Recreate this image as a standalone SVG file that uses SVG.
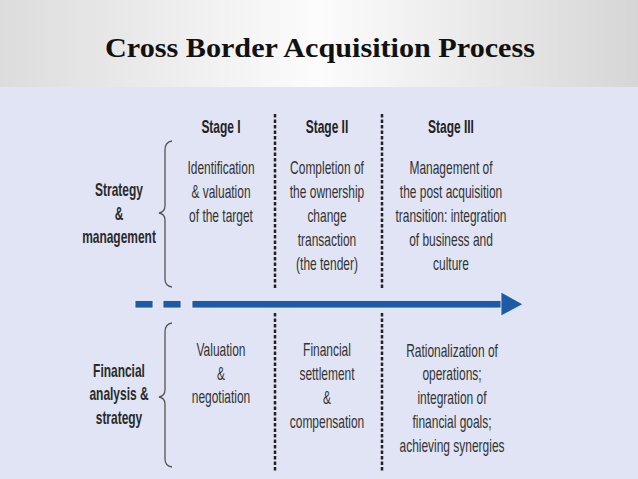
<svg xmlns="http://www.w3.org/2000/svg" width="638" height="479" viewBox="0 0 638 479">
<defs>
<linearGradient id="hdr" x1="0" y1="0" x2="1" y2="0">
<stop offset="0" stop-color="#dcdcdc"/>
<stop offset="0.5" stop-color="#fcfcfc"/>
<stop offset="1" stop-color="#d6d6d6"/>
</linearGradient>
</defs>
<style>
.t{font-family:"Liberation Sans",Arial,sans-serif;font-size:18px;fill:#333;text-anchor:middle}
.b{font-weight:bold;fill:#2a2a2a}
.h{font-weight:bold;fill:#222}
.dash{stroke:#222;stroke-width:2.5;stroke-dasharray:3.5 2;fill:none}
.brace{stroke:#555;stroke-width:1.3;fill:none}
.arr{fill:#1e5ba7;stroke:#eef2fb;stroke-width:0.8}
</style>
<rect x="0" y="0" width="638" height="87" fill="url(#hdr)"/>
<rect x="0" y="87" width="638" height="392" fill="#e0e4f4"/>
<text x="320" y="57" font-family="'Liberation Serif','Times New Roman',serif" font-weight="bold" font-size="28" fill="#111" text-anchor="middle" textLength="430" lengthAdjust="spacingAndGlyphs">Cross Border Acquisition Process</text>

<g id="connectors">
<path class="dash" d="M275,114V290M382,114V290M275,313V472M382,313V472"/>
<path id="brace-upper" class="brace" d="M172,141Q165,142 165,150L165,206Q165,212 159,213Q165,214 165,220L165,279Q165,286 172,287"/>
<path id="brace-lower" class="brace" d="M172,323Q165,324 165,332L165,390Q165,396 159,397Q165,398 165,404L165,459Q165,466 172,467"/>
<g id="timeline">
<rect class="arr" x="135" y="300.5" width="18" height="7.5"/>
<rect class="arr" x="163" y="300.5" width="18" height="7.5"/>
<rect class="arr" x="192" y="300.5" width="311" height="7.5"/>
<polygon class="arr" points="501,292 523,304.2 501,316"/>
</g>
</g>

<g id="label-strategy" transform="translate(119,0) scale(0.665,1)">
<text class="t b" x="0" y="196">Strategy</text>
<text class="t b" x="0" y="220">&amp;</text>
<text class="t b" x="0" y="243">management</text>
</g>
<g id="label-financial" transform="translate(119,0) scale(0.665,1)">
<text class="t b" x="0" y="377">Financial</text>
<text class="t b" x="0" y="400">analysis &amp;</text>
<text class="t b" x="0" y="424">strategy</text>
</g>

<g id="stage1-header" transform="translate(221,0) scale(0.665,1)">
<text class="t h" x="0" y="133">Stage I</text>
</g>
<g id="stage2-header" transform="translate(327,0) scale(0.665,1)">
<text class="t h" x="0" y="133">Stage II</text>
</g>
<g id="stage3-header" transform="translate(451,0) scale(0.665,1)">
<text class="t h" x="0" y="133">Stage III</text>
</g>

<g id="s1-strategy" transform="translate(221,0) scale(0.665,1)">
<text class="t" x="0" y="174">Identification</text>
<text class="t" x="0" y="198">&amp; valuation</text>
<text class="t" x="0" y="222">of the target</text>
</g>
<g id="s2-strategy" transform="translate(327,0) scale(0.665,1)">
<text class="t" x="0" y="174">Completion of</text>
<text class="t" x="0" y="198">the ownership</text>
<text class="t" x="0" y="222">change</text>
<text class="t" x="0" y="246">transaction</text>
<text class="t" x="0" y="270">(the tender)</text>
</g>
<g id="s3-strategy" transform="translate(451,0) scale(0.665,1)">
<text class="t" x="0" y="174">Management of</text>
<text class="t" x="0" y="198">the post acquisition</text>
<text class="t" x="0" y="222">transition: integration</text>
<text class="t" x="0" y="246">of business and</text>
<text class="t" x="0" y="270">culture</text>
</g>

<g id="s1-financial" transform="translate(221,0) scale(0.665,1)">
<text class="t" x="0" y="356">Valuation</text>
<text class="t" x="0" y="380">&amp;</text>
<text class="t" x="0" y="403">negotiation</text>
</g>
<g id="s2-financial" transform="translate(327,0) scale(0.665,1)">
<text class="t" x="0" y="356">Financial</text>
<text class="t" x="0" y="380">settlement</text>
<text class="t" x="0" y="404">&amp;</text>
<text class="t" x="0" y="428">compensation</text>
</g>
<g id="s3-financial" transform="translate(452,0) scale(0.665,1)">
<text class="t" x="0" y="357">Rationalization of</text>
<text class="t" x="0" y="380">operations;</text>
<text class="t" x="0" y="404">integration of</text>
<text class="t" x="0" y="428">financial goals;</text>
<text class="t" x="0" y="452">achieving synergies</text>
</g>
</svg>
